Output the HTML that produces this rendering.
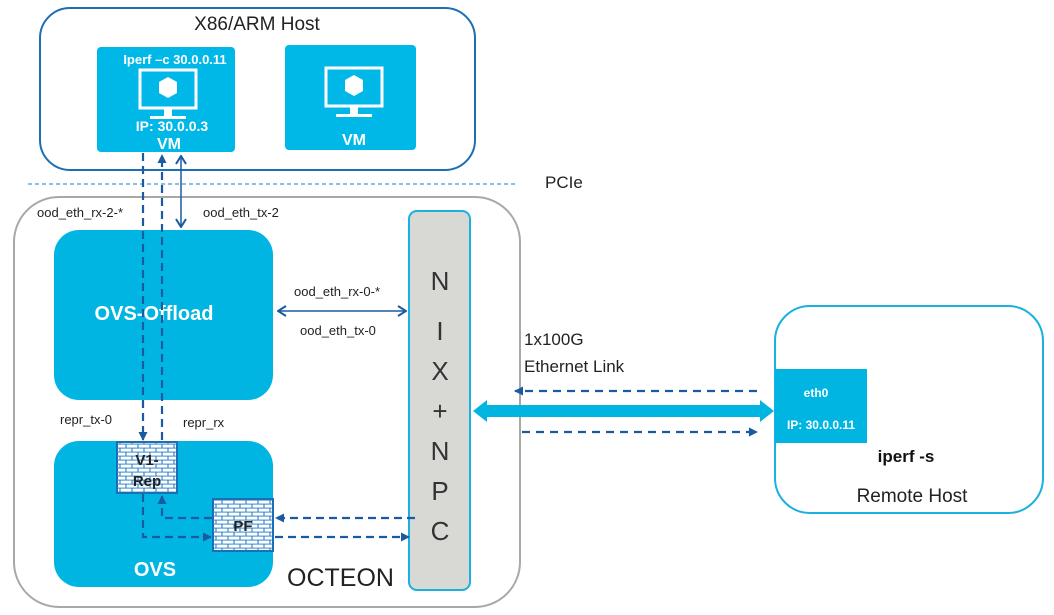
<!DOCTYPE html>
<html><head><meta charset="utf-8"><style>
html,body{margin:0;padding:0;background:#fff;}
svg{display:block;font-family:"Liberation Sans",sans-serif;}
</style></head><body>
<svg width="1054" height="615" viewBox="0 0 1054 615" xmlns="http://www.w3.org/2000/svg">
<defs>
<pattern id="brick" width="12" height="8" patternUnits="userSpaceOnUse">
<rect width="12" height="8" fill="#3a88cc"/>
<rect x="0.6" y="0.6" width="10.8" height="3" fill="#fff"/>
<rect x="-5.4" y="4.6" width="10.8" height="3" fill="#fff"/>
<rect x="6.6" y="4.6" width="10.8" height="3" fill="#fff"/>
</pattern>
<marker id="ah" markerWidth="9" markerHeight="9" refX="8" refY="4.5" orient="auto" markerUnits="userSpaceOnUse"><path d="M0,0 L9,4.5 L0,9 Z" fill="#1a5aa0"/></marker>
<marker id="oa" markerWidth="10" markerHeight="12" refX="9" refY="6" orient="auto" markerUnits="userSpaceOnUse"><path d="M1,1 L9,6 L1,11" fill="none" stroke="#1a5aa0" stroke-width="2"/></marker>
<marker id="oas" markerWidth="10" markerHeight="12" refX="1" refY="6" orient="auto" markerUnits="userSpaceOnUse"><path d="M9,1 L1,6 L9,11" fill="none" stroke="#1a5aa0" stroke-width="2"/></marker>
</defs>
<rect x="40" y="8" width="435" height="162" rx="30" fill="#fff" stroke="#1a6fb5" stroke-width="2"/>
<text x="257" y="30" font-size="19" text-anchor="middle" fill="#222">X86/ARM Host</text>
<rect x="97" y="47" width="138" height="105" rx="4" fill="#00b8e8"/>
<rect x="285" y="45" width="131" height="105" rx="4" fill="#00b8e8"/>
<text x="175" y="64" font-size="13" font-weight="bold" fill="#fff" text-anchor="middle">Iperf –c 30.0.0.11</text>
<g fill="none" stroke="#fff" stroke-width="3"><rect x="140" y="70" width="56" height="38"/><rect x="326" y="68" width="56" height="38"/></g>
<g fill="#fff"><rect x="164" y="108" width="8" height="9"/><rect x="150" y="116" width="36" height="3"/><rect x="350" y="106" width="8" height="9"/><rect x="336" y="114" width="36" height="3"/>
<path d="M168,77 L177,82 L177,93 L168,98 L159,93 L159,82Z"/><path d="M354,75 L363,80 L363,91 L354,96 L345,91 L345,80Z"/></g>
<text x="172" y="131" font-size="14" font-weight="bold" fill="#fff" text-anchor="middle">IP: 30.0.0.3</text>
<text x="169" y="149" font-size="16" font-weight="bold" fill="#fff" text-anchor="middle">VM</text>
<text x="354" y="145" font-size="16" font-weight="bold" fill="#fff" text-anchor="middle">VM</text>
<line x1="28" y1="184" x2="515" y2="184" stroke="#1a7fd0" stroke-width="1" stroke-dasharray="4,3"/>
<text x="545" y="188" font-size="17" fill="#222">PCIe</text>
<rect x="14" y="197" width="506" height="410" rx="45" fill="#fff" stroke="#a8a8a4" stroke-width="2"/>
<rect x="409" y="211" width="61" height="379" rx="8" fill="#d8d8d4" stroke="#1ab0e0" stroke-width="2"/>
<g font-size="26" fill="#333" text-anchor="middle"><text x="440" y="290">N</text><text x="440" y="340">I</text><text x="440" y="380">X</text><text x="440" y="420">+</text><text x="440" y="460">N</text><text x="440" y="500">P</text><text x="440" y="540">C</text></g>
<rect x="54" y="230" width="219" height="170" rx="25" fill="#00b5e2"/>
<text x="154" y="320" font-size="20" font-weight="bold" fill="#fff" text-anchor="middle">OVS-Offload</text>
<rect x="54" y="441" width="219" height="146" rx="25" fill="#00b5e2"/>
<text x="155" y="576" font-size="20" font-weight="bold" fill="#fff" text-anchor="middle">OVS</text>
<text x="287" y="586" font-size="25" fill="#222">OCTEON</text>
<rect x="117" y="442" width="60" height="51" fill="url(#brick)" stroke="#1a6fb5" stroke-width="2"/>
<text x="147" y="465" font-size="15" font-weight="bold" fill="#222" text-anchor="middle">V1-</text>
<text x="147" y="486" font-size="15" font-weight="bold" fill="#222" text-anchor="middle">Rep</text>
<rect x="213" y="499" width="60" height="52" fill="url(#brick)" stroke="#1a6fb5" stroke-width="2"/>
<text x="243" y="531" font-size="15" font-weight="bold" fill="#222" text-anchor="middle">PF</text>
<g font-size="13" fill="#222">
<text x="37" y="217">ood_eth_rx-2-*</text>
<text x="203" y="217">ood_eth_tx-2</text>
<text x="294" y="296">ood_eth_rx-0-*</text>
<text x="300" y="335">ood_eth_tx-0</text>
<text x="60" y="424">repr_tx-0</text>
<text x="183" y="427">repr_rx</text>
</g>
<g stroke="#1a5aa0" stroke-width="2.2" fill="none">
<line x1="143" y1="153" x2="143" y2="440" stroke-dasharray="8,5" marker-end="url(#ah)"/>
<line x1="162" y1="440" x2="162" y2="155" stroke-dasharray="8,5" marker-end="url(#ah)"/>
<line x1="181" y1="156" x2="181" y2="227" marker-start="url(#oas)" marker-end="url(#oa)" stroke-width="1.5"/>
<line x1="278" y1="311" x2="406" y2="311" marker-start="url(#oas)" marker-end="url(#oa)" stroke-width="1.5"/>
<polyline points="143,494 143,537 211,537" stroke-dasharray="8,5" marker-end="url(#ah)"/>
<polyline points="212,518 162,518 162,496" stroke-dasharray="8,5" marker-end="url(#ah)"/>
<line x1="415" y1="518" x2="276" y2="518" stroke-dasharray="8,5" marker-end="url(#ah)"/>
<line x1="275" y1="537" x2="409" y2="537" stroke-dasharray="8,5" marker-end="url(#ah)"/>
<line x1="757" y1="391" x2="515" y2="391" stroke-dasharray="8,6" marker-end="url(#ah)"/>
<line x1="522" y1="432" x2="757" y2="432" stroke-dasharray="8,6" marker-end="url(#ah)"/>
</g>
<path d="M473,411 L487,400 L487,405 L760,405 L760,400 L774,411 L760,422 L760,417 L487,417 L487,422 Z" fill="#00b5e2"/>
<text x="524" y="345" font-size="17" fill="#222">1x100G</text>
<text x="524" y="372" font-size="17" fill="#222">Ethernet Link</text>
<rect x="775" y="306" width="268" height="207" rx="35" fill="#fff" stroke="#1ab0e0" stroke-width="2"/>
<rect x="775" y="369" width="92" height="74" fill="#00b5e2"/>
<text x="816" y="397" font-size="12" font-weight="bold" fill="#fff" text-anchor="middle">eth0</text>
<text x="821" y="429" font-size="12" font-weight="bold" fill="#fff" text-anchor="middle">IP: 30.0.0.11</text>
<text x="906" y="462" font-size="17" font-weight="bold" fill="#111" text-anchor="middle">iperf -s</text>
<text x="912" y="502" font-size="19" fill="#222" text-anchor="middle">Remote Host</text>
</svg>
</body></html>
